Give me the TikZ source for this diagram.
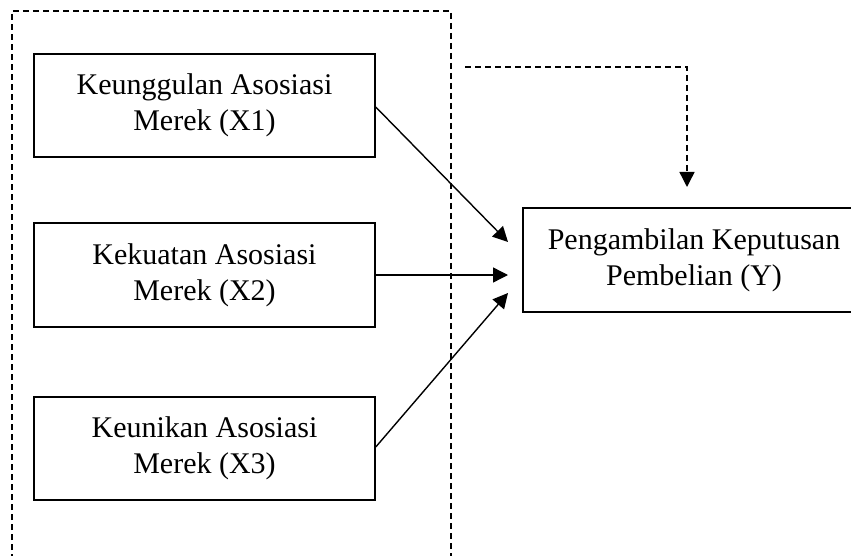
\documentclass[tikz,border=0pt]{standalone}
\usepackage{fontspec}
\setmainfont{Liberation Serif}
\usetikzlibrary{arrows.meta}
\begin{document}
\begin{tikzpicture}[x=1pt,y=-1pt,
  varbox/.style={draw,line width=1.5pt,inner sep=0pt,align=center,
    font=\fontsize{30}{36}\selectfont},
  conn/.style={line width=1.4pt,-{Triangle[length=15pt,width=15pt]}},
  dashline/.style={line width=1.4pt,dash pattern=on 6pt off 4pt}]
\useasboundingbox (0,0) rectangle (851,556);
\node[varbox,minimum width=341pt,minimum height=103pt] (x1) at (204.5,105.5) {Keunggulan Asosiasi\\Merek (X1)};
\node[varbox,minimum width=341pt,minimum height=104pt] (x2) at (204.5,275) {Kekuatan Asosiasi\\Merek (X2)};
\node[varbox,minimum width=341pt,minimum height=103pt] (x3) at (204.5,448.5) {Keunikan Asosiasi\\Merek (X3)};
\node[varbox,minimum width=342pt,minimum height=104pt] (y) at (694,260) {Pengambilan Keputusan\\Pembelian (Y)};
% dashed frame
\coordinate (fbl) at (12,560);
\coordinate (ftl) at (12,11);
\coordinate (ftr) at (451,11);
\coordinate (fbr) at (451,560);
\draw[dashline] (fbl) -- (ftl) -- (ftr) -- (fbr);
% dashed arrow
\coordinate (ds) at (465,67);
\coordinate (dc) at (687,67);
\coordinate (de) at (687,187);
\draw[dashline,conn] (ds) -- (dc) -- (de);
% solid arrows
\coordinate (t1) at (508,242);
\coordinate (t2) at (508,275);
\coordinate (t3) at (508,293);
\draw[conn] (x1.east |- 0,107) -- (t1);
\draw[conn] (x2.east) -- (t2);
\draw[conn] (x3.east |- 0,447) -- (t3);
\end{tikzpicture}
\end{document}
